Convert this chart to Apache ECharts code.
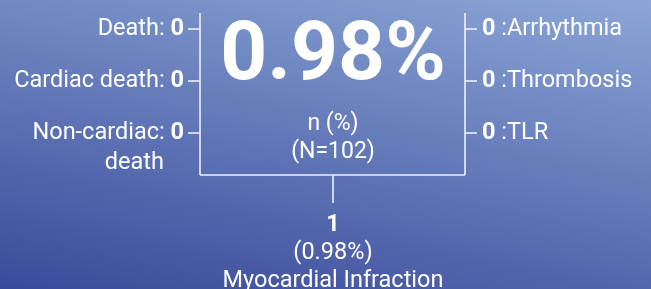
<!DOCTYPE html>
<html>
<head>
<meta charset="utf-8">
<script src="https://cdn.jsdelivr.net/npm/echarts@6/dist/echarts.min.js"></script>
<style>html,body{margin:0;padding:0;}#c{width:651px;height:289px;}</style>
</head>
<body>
<div id="c"></div>
<script>
// Data
var leftLabels = ['Death:', 'Cardiac death:', 'Non-cardiac:'];
var leftLabelSecondLine = ['', '', 'death'];
var leftValues = [0, 0, 0];
var rightLabels = [':Arrhythmia', ':Thrombosis', ':TLR'];
var rightValues = [0, 0, 0];
var centerValue = '0.98%';
var centerUnit = 'n (%)';
var totalN = 102;
var bottomCount = 1;
var bottomPct = '0.98%';
var bottomLabel = 'Myocardial Infraction';

var chart = echarts.init(document.getElementById('c'), null, {renderer: 'canvas'});
var FONT = 'Roboto';
var WHITE = '#ffffff';
var LINE = '#eef1f8';
var SIDE = 23.5;
var rowY = [29, 81, 133];
var L = 200, R = 465, T = 13, B = 175, CX = 333;

var els = [];
function line(x1, y1, x2, y2) {
  els.push({type: 'line', shape: {x1: x1, y1: y1, x2: x2, y2: y2}, style: {stroke: LINE, lineWidth: 1.6}, silent: true});
}
function text(x, y, t, opt) {
  els.push({type: 'text', x: x, y: y, silent: true, style: {
    text: t, fill: WHITE, fontFamily: FONT, fontSize: opt.size, fontWeight: opt.weight || 'normal',
    align: opt.align || 'center', verticalAlign: 'middle', rich: opt.rich
  }});
}
var richB = {b: {fontWeight: 'bold', fontSize: SIDE, fontFamily: FONT, fill: WHITE}};
// frame
line(L, T, L, B);
line(R, T, R, B);
line(L, B, R, B);
line(CX, B, CX, 203);
leftLabels.forEach(function (lab, i) {
  line(188, rowY[i], L, rowY[i]);
  text(184, rowY[i], lab + ' {b|' + leftValues[i] + '}', {size: SIDE, align: 'right', rich: richB});
  if (leftLabelSecondLine[i]) {
    text(164, rowY[i] + 30, leftLabelSecondLine[i], {size: SIDE, align: 'right'});
  }
});
rightLabels.forEach(function (lab, i) {
  line(R, rowY[i], 477, rowY[i]);
  text(482, rowY[i], '{b|' + rightValues[i] + '} ' + lab, {size: SIDE, align: 'left', rich: richB});
});
text(CX, 58, centerValue, {size: 82, weight: 'bold'});
text(CX, 124, centerUnit, {size: 23});
text(CX, 152, '(N=' + totalN + ')', {size: 23});
text(CX, 225, String(bottomCount), {size: SIDE, weight: 'bold'});
text(CX, 253, '(' + bottomPct + ')', {size: SIDE});
text(CX, 281, bottomLabel, {size: SIDE});

chart.setOption({
  backgroundColor: new echarts.graphic.LinearGradient(651, 0, 570, 403, [
    {offset: 0, color: '#8ba6d6'},
    {offset: 1, color: '#3a4a9a'}
  ], true),
  graphic: {elements: els}
});
</script>
</body>
</html>
